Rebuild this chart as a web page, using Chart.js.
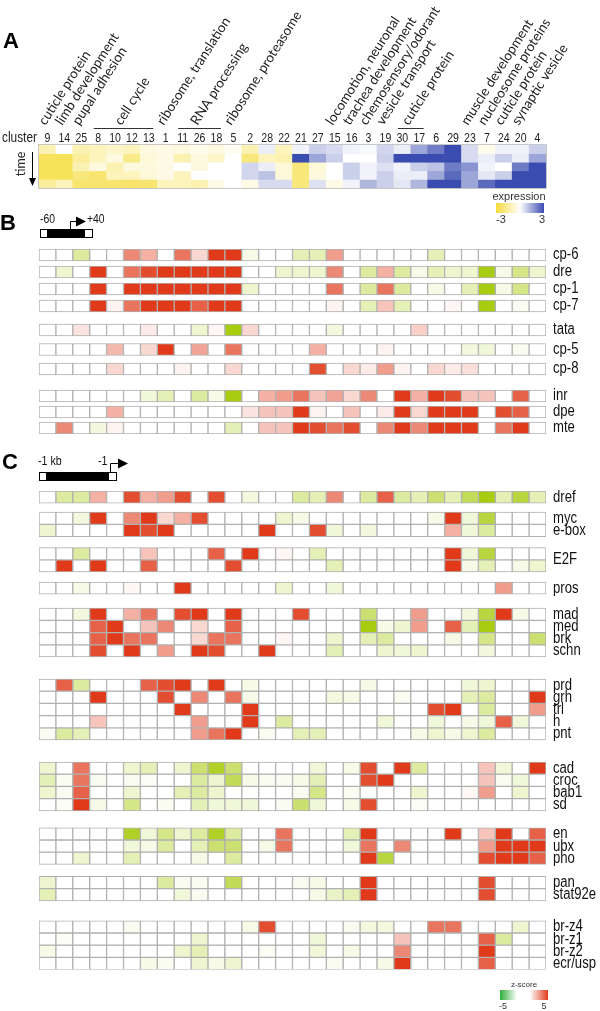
<!DOCTYPE html>
<html>
<head>
<meta charset="utf-8">
<script src="https://cdn.jsdelivr.net/npm/chart.js@4.4.1/dist/chart.umd.min.js"></script>
<style>
  html, body { margin: 0; padding: 0; background: #fff; }
  #wrap { position: relative; width: 600px; height: 1011px; overflow: hidden; }
  .panel { position: absolute; left: 0; width: 600px; }
</style>
</head>
<body>
<div id="wrap">
  <div class="panel" style="top:0;height:230px"><canvas id="chartA"></canvas></div>
  <div class="panel" style="top:195px;height:245px"><canvas id="chartB"></canvas></div>
  <div class="panel" style="top:440px;height:571px"><canvas id="chartC"></canvas></div>
</div>
<script>
// clusters, in the order of the columns
const clusters = ['9','14','25','8','10','12','13','1','11','26','18','5','2','28','22','21','27','15','16','3','19','30','17','6','29','23','7','24','20','4'];

// functional annotation above the columns (first / last column index)
const funcLabels = [
  { text: 'cuticle protein', from: 0, to: 0 },
  { text: 'limb development', from: 1, to: 1 },
  { text: 'pupal adhesion', from: 2, to: 2 },
  { text: 'cell cycle', from: 3, to: 6 },
  { text: 'ribosome, translation', from: 7, to: 7 },
  { text: 'RNA processing', from: 8, to: 10 },
  { text: 'ribosome, proteasome', from: 11, to: 11 },
  { text: 'locomotion, neuronal', from: 17, to: 17 },
  { text: 'trachea development', from: 18, to: 18 },
  { text: 'chemosensory/odorant', from: 19, to: 19 },
  { text: 'vesicle transport', from: 20, to: 20 },
  { text: 'cuticle protein', from: 21, to: 22 },
  { text: 'muscle development', from: 25, to: 25 },
  { text: 'nucleosome proteins', from: 26, to: 26 },
  { text: 'cuticle protein', from: 27, to: 27 },
  { text: 'synaptic vesicle', from: 28, to: 28 }
];

// A: expression (-3 .. 3), one array per time point
const exprT1 = [-1.2,0,-1.2,-1,-0.8, -1,-0.5,-0.4,-0.5,-0.3, -0.5,-0.2,-1.2,0.3,-1, 0.2,0.8,0.6,0.2,0.1, 0.7,0.3,1.5,2.2,3, 0.6,-0.3,0.2,0.2,0.8];
const exprT2 = [-2.5,-2.5,-1.5,-1,-0.5, -1.8,-0.6,-0.4,-1.2,-0.5, -0.8,0,-2,-1,-1.2, 3,1.5,0.8,0,0, 0.8,3,3,3,3, 0.6,0.3,0.8,0.3,1.5];
const exprT3 = [-2.5,-2.5,-1.2,-0.5,-1.2, -0.5,-0.5,-0.4,0,-0.5, 0,0,0.7,0.3,-0.6, -2,-0.6,0,0.8,0.2, 0.5,0.2,0.8,1,2.2, 1.8,0.2,0,2.2,3];
const exprT4 = [-2.5,-2.5,-2,-2.2,-1, -1,-0.6,-0.4,-1,0, 0,0,0.7,1,-0.6, -2,-0.5,0,0.8,0.2, 0.8,0.3,0.3,1.5,2.5, 1.5,0.4,0.8,3,3];
const exprT5 = [-1.5,-1,-2.2,-2.2,-2.2, -2.3,-2.2,-1,-1,-1.2, -0.4,0,-0.4,0.6,0.6, -2,0.5,-0.4,0.2,1.2, 0.8,0.4,1.2,3,3, 1.5,2.5,3,3,3];

// B: core promoter motifs, z-score (-5 .. 5)
const cp6  = [0,0,-2,0,0, 3,2,0,3.5,1, 5,5,-0.5,0,0, -1.5,-1.5,2.5,0,0, 0,0,0,-1.5,0, 0,0,0,0,0];
const dre  = [0,-1,0,5,0, 3.5,4.5,5,5,5, 5,5,0,0,-1, -1,-1,3,0,-2, 2,-2,-0.5,-1.5,-1, -1,-5,-0.5,-2.5,-1];
const cp1  = [0,0,0,5,0, 5,5,5,5,5, 5,5,-1,0,0, 0,0,3.5,0,-2, 3.5,-2,0,-0.5,0, -1.5,-5,-0.5,-2.5,0];
const cp7  = [0,0,0,5,0.3, 3.5,5,5,5,4, 5,5,0,0,0, 0,0,0.3,0,-1.5, 1.5,-1.5,0,0,0.2, 0,-5,0,-0.3,0];
const tata = [0,0,0.7,0,0, 0,0.5,0,0,-1, 0.2,-5,1,0,0, 0,0,-0.7,0,0, 0,0,1.2,0,0, 0,0,0,0,0];
const cp5  = [0,0,0,0,1.8, 0,1,5,0,2.3, 0,3.5,0,0,0, 0,2,0,0,0, 0.3,0,0,0,0, -0.7,-0.8,0,-0.3,0];
const cp8  = [0,0,0,0,1, 0,0,0,0.3,0, 0,1,0,0,0, 0,4.5,0,1,0.5, 2.5,0.3,0,1,0.5, 0.8,0,0,0,0];
const inr  = [0,0,0,0,0, 0,-0.8,-1.5,0,-2, -0.5,-5,0,2,2.5, 3.5,1.5,2.3,1,3, 0,5,2,5,4.5, 1.5,1.5,0,4,0];
const dpe  = [0,0,0,0,2, 0,0,0,0,0, 0,0,0.7,1.5,1.5, 5,0.3,0,1.5,0, 0.5,5,1,5,5, 5,0,4.5,4,0];
const mte  = [0,3,0,-0.7,0.3, 0,0,0,0,0, 0,-1.5,0,1.5,1.5, 5,4.5,3.5,4.5,0, 3,5,3,5,5, 5,0,3.5,5,0];

// C: upstream motifs, z-score (-5 .. 5)
const dref  = [0,-2,-2,2,0, 4.5,2,2.5,4.5,0, 4.5,0,-0.7,0,0, -2,-1.5,3,0,-2, 4,-2,-1.5,-3,-1.5, -3.5,-5,-1.5,-4,-1.5];
const myc   = [0,0,-0.7,5,0, 3,5,1,2,4.5, 0,0,0,0,-1, -0.5,0,0,0,0, 0,0,0,-0.5,5, -0.8,-4,0,0,0];
const ebox  = [-1,0,0,0,0, 5,4.5,5,0,0, 0,0,0,5,0, 0,4.5,-0.8,0,-0.7, 0,0,0,0,2, -0.8,-2,0,0,0];
const e2fA  = [0,0,-2,0,0, 0,1.5,0,0,0, 4,0,5,0,0.2, 0,-1.5,0,0,0, 0,0,0,0,5, -0.8,-4,0,0,0];
const e2fB  = [0,5,0,5,0, 0,4,0,0,0, 0,4.5,0,0,0, 0,0,-1.5,0,0, 0,0,0,0,5, -0.5,-1.5,0,-0.5,-1];
const pros  = [0,0,-0.5,0,0, 0.2,0,0,5,0, 0,0,0,0,-1, 0,0,-0.8,0,0, 0,0,0,0,0, 0,0,2.5,0,0];
const mad   = [0,0,-0.7,5,0, 2,3.5,0,4.5,5, 0,5,0,0,0, 4.5,0,0,0,-3, 0,0,2.5,0,0, -0.7,-4,5,-0.5,0];
const med   = [0,0,0,4,5, 0,1.5,3,0,1, 0,4,0,0,0, 0,0,0,0,-5, -0.5,-1,2.5,0,4, -1.5,-5,0,0,0];
const brk   = [0,0,0,4,5, 3.5,3.5,0,0,1, 3.5,3.5,0,0,0.2, 0,0,-1,0,-1.5, -2,0,0,0,-0.5, 0,-2.5,0,0,-3];
const schn  = [0,0,0,4.5,0, 5,0,2.5,0,5, 4.5,0,0,5,0, 0,0,-1.5,0,0, -1,-0.8,-1,0,0, 0,-0.7,0,0,0];
const prd   = [0,4,-2,0,0, 0,4,4.5,5,0, 5,0,-0.5,0,0, 0,0,0,0,-0.5, 0,0,0,0,0, -0.8,-1,0,0,0];
const grh   = [0,0,0,5,0, 0,0,4.5,0,3, 0,3.5,-0.5,0,0, 0,0,-0.7,-0.5,0, 0,-0.3,0,0,0, -1.5,-2,0,0,5];
const trl   = [0,0,0,0,0, 0,0,0,5,0, 0,0,5,0,0, 0,0,0,0,0, 0,0,0,4.5,5, 0,-2,0,0,2.5];
const hmot  = [0,0,0,1.5,0, 0,0,0,0,2.5, 0,0,5,0,-2, 0,0,0,0,0, -0.8,0,0,-0.8,0, -0.5,-0.8,4,-0.8,0];
const pnt   = [-0.3,-2,-1.5,0,0, 0,0,0,0,2.5, 3.5,5,0,-0.3,0, -1.5,-1.5,0,0,0, 0,0,-0.5,-1,-0.5, -1,-2,0,0,0];
const cad   = [-1,0,3.5,0,0, -1,-1.5,0,-1,-3, -4.5,-3,0,0,0, 0,-0.8,0,-0.5,4.5, 0,5,-2,0,0, 0,1.5,-0.8,0,5];
const croc  = [-1.5,-0.3,3.5,-0.3,0, -0.3,-0.2,0,0,-2, -1,-3.5,-0.5,-0.3,-0.3, -0.5,-1.5,0,0,4.5, 5,0,0,0,0, 0,1.5,-0.3,-0.8,0];
const bab1  = [-1,-0.3,4,0,0, -1,0,0,-1.5,-2, -1,0,0,0,0, -0.3,-2.5,0,-0.3,0, 0,0,-1,0,0, 0.2,2.5,0,-1,0];
const sd    = [0,-0.2,5,-0.5,0, -2.5,0,-0.3,0,-1.5, -0.8,-0.8,-0.8,0,-0.3, -3,-0.8,0,-0.5,4.5, 0,0,-0.2,0,0, 0,0,0,0,0];
const en    = [0,0,0,0,0, -4.5,-0.8,-2.5,-1,-2, -4.5,-2,0,0,3.5, 0,0,0,-1.5,5, 0,0,0,0,5, 0,1.5,5,0,4];
const ubx   = [0,0,0,0,0, -0.8,-0.5,-2,0,-1.5, -3,-3,0,-0.5,3.5, 0,0,0,-0.8,3.5, 0,3,0,0,0, 0,2.5,5,5,5];
const pho   = [0,0,-1,0,0, -1.5,0,0,0,-0.5, 0,-2,0,0,0, 0,0,0,0,5, -4,0,0,0,0, 0,4.5,5,5,4];
const pan   = [-1,0,0,0,0, 0,0,-2,-0.3,-0.3, 0,-3.5,0,0,0, -0.3,-0.5,0,0,5, 0,0,0,0,0, 0,4.5,0,0,0];
const stat  = [-1.5,0,0,0,0, 0,0,0,-0.8,-0.3, 0,0,0,0,0, 0,-0.5,-1.2,-1.5,5, 0,0,0,0,0, 0,4.5,0,0,0];
const brz4  = [0,0,0,0,0, -0.3,0,0,0,0, 0,0,-0.5,4.5,0, 0,0,0,-0.3,-0.7, -0.7,0,0,3.5,3.5, 0,0,0,-1,0];
const brz1  = [0,-0.2,0,0,0, 0,0,0,0,-1, 0,0,0,0,0, 0,-0.8,0,0,0, 0,1.5,0,0,0, 0,4,-2,0,0];
const brz2  = [-0.5,0,0,0,0, 0,0,0,-1,-1.5, 0,0,0,-0.2,0, 0,-0.8,0,-0.5,0, 0,3,0,0,0, 0,5,0,0,0];
const ecr   = [0,0,0,0,0, 0,-0.5,-0.3,0,-1, -0.5,-1,0,0,0, 0,0,-0.3,0,0, -0.5,5,0,0,0, 0,4,0,0,0];

// row grouping (gap before group and between rows, in px)
const groupsB = [
  { gap: 0, inner: 5, rows: [['cp-6', cp6], ['dre', dre], ['cp-1', cp1], ['cp-7', cp7]] },
  { gap: 12, inner: 7.5, rows: [['tata', tata], ['cp-5', cp5], ['cp-8', cp8]] },
  { gap: 15, inner: 4, rows: [['inr', inr], ['dpe', dpe], ['mte', mte]] }
];
const groupsC = [
  { gap: 0, rows: [['dref', dref]] },
  { gap: 9, rows: [['myc', myc], ['e-box', ebox]] },
  { gap: 11, label: 'E2F', rows: [['E2F', e2fA], ['E2F', e2fB]] },
  { gap: 10, rows: [['pros', pros]] },
  { gap: 14, rows: [['mad', mad], ['med', med], ['brk', brk], ['schn', schn]] },
  { gap: 22, rows: [['prd', prd], ['grh', grh], ['trl', trl], ['h', hmot], ['pnt', pnt]] },
  { gap: 22, rows: [['cad', cad], ['croc', croc], ['bab1', bab1], ['sd', sd]] },
  { gap: 17, rows: [['en', en], ['ubx', ubx], ['pho', pho]] },
  { gap: 12, rows: [['pan', pan], ['stat92e', stat]] },
  { gap: 20, rows: [['br-z4', brz4], ['br-z1', brz1], ['br-z2', brz2], ['ecr/usp', ecr]] }
];

const sans = '"Liberation Sans", Arial, sans-serif';
const label = '"Lato", "Noto Sans", sans-serif';

function mix(c, t) {
  return 'rgb(' + c.map(k => Math.round(255 + (k - 255) * t)).join(',') + ')';
}
const zRed = [224, 58, 26], zGreen = [168, 204, 16];
const exYellow = [245, 220, 58], exBlue = [58, 76, 176];
function zColor(v) {
  return v >= 0 ? mix(zRed, Math.min(v / 5, 1)) : mix(zGreen, Math.min(-v / 5, 1));
}
function exprColor(v) {
  return v >= 0 ? mix(exBlue, Math.min(v / 3, 1)) : mix(exYellow, Math.min(-v / 3, 1));
}

function buildLayout(groups, rowH) {
  const rows = [], ticks = [];
  let y = 0;
  groups.forEach(g => {
    y += g.gap;
    const start = y;
    g.rows.forEach((r, i) => {
      if (i > 0) y += g.inner || 0;
      rows.push({ label: r[0], values: r[1], y0: y, y1: y + rowH });
      if (!g.label) ticks.push({ value: y + rowH / 2, label: r[0] });
      y += rowH;
    });
    if (g.label) ticks.push({ value: (start + y) / 2, label: g.label });
  });
  return { rows, ticks, total: y };
}

// condensed text (no narrow face installed, so squeeze a regular one)
function narrowText(ctx, txt, x, y, size, sx, align, base) {
  ctx.save();
  ctx.translate(x, y);
  ctx.scale(sx, 1);
  ctx.font = size + 'px ' + sans;
  ctx.textAlign = align || 'left';
  ctx.textBaseline = base || 'alphabetic';
  ctx.fillText(txt, 0, 0);
  ctx.restore();
}

function panelLetter(ctx, txt, x, y) {
  ctx.font = 'bold 22px ' + sans;
  ctx.fillStyle = '#000';
  ctx.textAlign = 'left';
  ctx.textBaseline = 'alphabetic';
  ctx.fillText(txt, x, y);
}

// promoter sketch: black bar with open ends and a bent arrow
function promoter(ctx, x0, x1, y, tss, tipX, arrowY) {
  ctx.fillStyle = '#000';
  ctx.fillRect(x0, y, x1 - x0, 9);
  ctx.fillStyle = '#fff';
  ctx.strokeStyle = '#000';
  ctx.lineWidth = 1;
  ctx.fillRect(x0 + 1, y + 1, 6, 7);
  ctx.fillRect(x1 - 8, y + 1, 7, 7);
  ctx.beginPath();
  ctx.moveTo(tss, y);
  ctx.lineTo(tss, arrowY);
  ctx.lineTo(tipX - 8, arrowY);
  ctx.stroke();
  ctx.fillStyle = '#000';
  ctx.beginPath();
  ctx.moveTo(tipX, arrowY);
  ctx.lineTo(tipX - 10, arrowY - 5);
  ctx.lineTo(tipX - 10, arrowY + 5);
  ctx.closePath();
  ctx.fill();
}

// ---------- A ----------
const exprRows = [exprT1, exprT2, exprT3, exprT4, exprT5];

const decorA = {
  id: 'decorA',
  afterDraw(chart) {
    const { ctx, chartArea: a, scales: { x } } = chart;
    ctx.save();
    ctx.strokeStyle = '#c8c8c8';
    ctx.lineWidth = 1;
    ctx.strokeRect(a.left - 0.5, a.top - 0.5, a.right - a.left + 1, a.bottom - a.top + 1);
    panelLetter(ctx, 'A', 3, 48);

    ctx.fillStyle = '#222';
    narrowText(ctx, 'cluster', 37, 142, 14, 0.85, 'right');
    clusters.forEach((c, i) => {
      narrowText(ctx, c, x.getPixelForValue(i), 142, 13.5, 0.78, 'center');
    });

    // annotations, rotated
    const ang = -57.5 * Math.PI / 180;
    ctx.font = '13.5px ' + label;
    ctx.textAlign = 'left';
    ctx.textBaseline = 'alphabetic';
    funcLabels.forEach(f => {
      const cx = (x.getPixelForValue(f.from) + x.getPixelForValue(f.to)) / 2;
      ctx.save();
      ctx.translate(cx - 2, 126);
      ctx.rotate(ang);
      ctx.fillText(f.text, 0, 0);
      ctx.restore();
      if (f.to > f.from) {
        const w = (x.getPixelForValue(1) - x.getPixelForValue(0)) / 2;
        ctx.strokeStyle = '#333';
        ctx.beginPath();
        ctx.moveTo(x.getPixelForValue(f.from) - w + 4, 128.5);
        ctx.lineTo(x.getPixelForValue(f.to) + w - 4, 128.5);
        ctx.stroke();
      }
    });

    // time axis
    ctx.save();
    ctx.translate(21, 164);
    ctx.rotate(-Math.PI / 2);
    ctx.font = '12.5px ' + label;
    ctx.textAlign = 'center';
    ctx.textBaseline = 'middle';
    ctx.fillText('time', 0, 0);
    ctx.restore();
    ctx.strokeStyle = '#000';
    ctx.beginPath();
    ctx.moveTo(32.5, 152);
    ctx.lineTo(32.5, 180);
    ctx.stroke();
    ctx.fillStyle = '#000';
    ctx.beginPath();
    ctx.moveTo(32.5, 186);
    ctx.lineTo(29, 178);
    ctx.lineTo(36, 178);
    ctx.closePath();
    ctx.fill();

    // expression key
    const g = ctx.createLinearGradient(496, 0, 544, 0);
    g.addColorStop(0, exprColor(-3));
    g.addColorStop(0.5, '#fff');
    g.addColorStop(1, exprColor(3));
    ctx.fillStyle = g;
    ctx.fillRect(496, 203, 48, 10);
    ctx.fillStyle = '#333';
    ctx.font = '11px ' + sans;
    ctx.textAlign = 'center';
    ctx.textBaseline = 'alphabetic';
    ctx.fillText('expression', 519, 200);
    ctx.fillText('-3', 501, 223);
    ctx.fillText('3', 542, 223);
    ctx.restore();
  }
};

new Chart(document.getElementById('chartA'), {
  type: 'bar',
  data: {
    labels: clusters,
    datasets: exprRows.map((vals, i) => ({
      label: 't' + (i + 1),
      data: vals.map(() => [i, i + 1]),
      backgroundColor: vals.map(exprColor),
      borderWidth: 0,
      barPercentage: 1,
      categoryPercentage: 1,
      grouped: false
    }))
  },
  options: {
    responsive: true,
    maintainAspectRatio: false,
    animation: false,
    layout: { padding: { left: 39, right: 54, top: 127, bottom: 42 } },
    plugins: { legend: { display: false }, tooltip: { enabled: false } },
    scales: {
      x: {
        position: 'top',
        grid: { display: false, drawTicks: false },
        border: { display: false },
        afterFit: s => { s.height = 18; },
        ticks: { display: false }
      },
      y: { display: false, reverse: true, min: 0, max: 5 }
    }
  },
  plugins: [decorA]
});

// ---------- B and C ----------
function heatChart(id, layout, padTop, padBottom, decor) {
  const rowLabels = {
    id: 'rowLabels',
    afterDraw(chart) {
      const { ctx, scales: { y } } = chart;
      ctx.save();
      ctx.fillStyle = '#111';
      layout.ticks.forEach(t => {
        narrowText(ctx, t.label, y.left + 7, y.getPixelForValue(t.value), 16, 0.82, 'left', 'middle');
      });
      ctx.restore();
    }
  };
  return new Chart(document.getElementById(id), {
    type: 'bar',
    data: {
      labels: clusters,
      datasets: layout.rows.map(r => ({
        label: r.label,
        data: r.values.map(() => [r.y0, r.y1]),
        backgroundColor: r.values.map(zColor),
        borderColor: '#b0b0b0',
        borderWidth: 1,
        borderSkipped: false,
        barPercentage: 1,
        categoryPercentage: 1,
        grouped: false
      }))
    },
    options: {
      responsive: true,
      maintainAspectRatio: false,
      animation: false,
      layout: { padding: { left: 39, right: 0, top: padTop, bottom: padBottom } },
      plugins: { legend: { display: false }, tooltip: { enabled: false } },
      scales: {
        x: { display: false },
        y: {
          position: 'right',
          reverse: true,
          min: 0,
          max: layout.total,
          grid: { display: false, drawTicks: false },
          border: { display: false },
          afterFit: s => { s.width = 54; },
          afterBuildTicks: s => { s.ticks = layout.ticks.map(t => ({ value: t.value })); },
          ticks: { display: false }
        }
      }
    },
    plugins: [rowLabels, decor]
  });
}

const layoutB = buildLayout(groupsB, 12);
const layoutC = buildLayout(groupsC, 12.2);

heatChart('chartB', layoutB, 54, 6, {
  id: 'decorB',
  afterDraw(chart) {
    const ctx = chart.ctx;
    ctx.save();
    panelLetter(ctx, 'B', 0, 35);
    ctx.fillStyle = '#111';
    narrowText(ctx, '-60', 40, 28, 13, 0.8);
    narrowText(ctx, '+40', 87, 28, 13, 0.8);
    promoter(ctx, 40, 93, 34, 70.5, 86, 26.5);
    ctx.restore();
  }
});

heatChart('chartC', layoutC, 51, 41.4, {
  id: 'decorC',
  afterDraw(chart) {
    const ctx = chart.ctx;
    ctx.save();
    panelLetter(ctx, 'C', 2, 29);
    ctx.fillStyle = '#111';
    narrowText(ctx, '-1 kb', 38, 25, 13, 0.82);
    narrowText(ctx, '-1', 98, 25, 13, 0.82);
    promoter(ctx, 39, 117, 32, 110.5, 128, 23.5);

    // z-score key
    const yk = 550;
    let g = ctx.createLinearGradient(500, 0, 517, 0);
    g.addColorStop(0, '#2fae3a');
    g.addColorStop(1, '#ffffff');
    ctx.fillStyle = g;
    ctx.fillRect(500, yk, 17, 10);
    g = ctx.createLinearGradient(530, 0, 548, 0);
    g.addColorStop(0, '#ffffff');
    g.addColorStop(1, zColor(5));
    ctx.fillStyle = g;
    ctx.fillRect(530, yk, 18, 10);
    ctx.fillStyle = '#333';
    ctx.font = '8px ' + sans;
    ctx.textAlign = 'center';
    ctx.textBaseline = 'alphabetic';
    ctx.fillText('z-score', 524, yk - 3);
    ctx.font = '9px ' + sans;
    ctx.fillText('-5', 503, yk + 19);
    ctx.fillText('5', 544, yk + 19);
    ctx.restore();
  }
});
</script>
</body>
</html>
